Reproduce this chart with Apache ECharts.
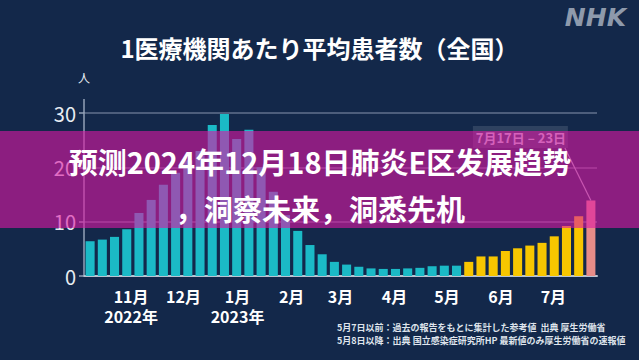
<!DOCTYPE html>
<html><head><meta charset="utf-8">
<script src="https://cdn.jsdelivr.net/npm/echarts@6/dist/echarts.min.js"></script>
<style>html,body{margin:0;padding:0;background:#13284a;}#c{width:639px;height:360px;}</style>
</head><body><div id="c"></div>
<script>
// Week start dates (one bar per week)
const weeks = ['2022-10-03','2022-10-10','2022-10-17','2022-10-24','2022-10-31','2022-11-07','2022-11-14','2022-11-21','2022-11-28','2022-12-05','2022-12-12','2022-12-19','2022-12-26','2023-01-02','2023-01-09','2023-01-16','2023-01-23','2023-01-30','2023-02-06','2023-02-13','2023-02-20','2023-02-27','2023-03-06','2023-03-13','2023-03-20','2023-03-27','2023-04-03','2023-04-10','2023-04-17','2023-04-24','2023-05-01','2023-05-08','2023-05-15','2023-05-22','2023-05-29','2023-06-05','2023-06-12','2023-06-19','2023-06-26','2023-07-03','2023-07-10','2023-07-17'];
// Up to 5/7: reference values
const referenceValues = [6.4,6.7,7.2,8.6,11.6,14.0,16.8,19.0,21.3,23.0,27.8,29.8,25.2,26.9,20.0,15.5,11.2,8.3,5.7,4.0,2.6,2.1,1.7,1.4,1.3,1.3,1.4,1.5,1.8,1.9,1.9];
// From 5/8: reported values
const reportedValues = [2.6,3.6,3.6,4.6,5.1,5.6,6.1,7.3,9.2,11.0];
// Latest week 7/17-23
const latestValues = [13.9];
const axisEndDate = '2023-07-24';
const monthTicks = ['2022-11-01','2022-12-01','2023-01-01','2023-02-01','2023-03-01','2023-04-01','2023-05-01','2023-06-01','2023-07-01'];
const monthLabels = ['11月\n2022年','12月','1月\n2023年','2月','3月','4月','5月','6月','7月'];
const yTicks = [0,10,20,30];
const titleText = '1医療機関あたり平均患者数（全国）';
const unitLabel = '人';
const calloutText = '7月17日 – 23日';
const notes = ['5月7日以前：過去の報告をもとに集計した参考値  出典 厚生労働省','5月8日以降：出典 国立感染症研究所HP 最新値のみ厚生労働省の速報値'];
const overlayLines = ['预测2024年12月18日肺炎E区发展趋势','，洞察未来，洞悉先机'];

const toDay = s => { const [y,m,d] = s.split('-').map(Number); return Math.round(Date.UTC(y,m-1,d)/86400000); };
const day0 = toDay(weeks[0]);
const monthDays = monthTicks.map(s => toDay(s) - day0);

const n = weeks.length;
const pad = (arr, start) => weeks.map((w,i) => (i>=start && i<start+arr.length) ? arr[i-start] : '-');
const s1 = pad(referenceValues, 0);
const s2 = pad(reportedValues, referenceValues.length);
const s3 = pad(latestValues, referenceValues.length + reportedValues.length);

const FONT = '"Noto Sans CJK JP", "Noto Sans", sans-serif';
const chart = echarts.init(document.getElementById('c'), null, {renderer:'svg'});
const barCommon = {type:'bar', xAxisIndex:0, barGap:'-100%', barCategoryGap:'26%', animation:false};
chart.setOption({
  backgroundColor:'#13284a',
  animation:false,
  textStyle:{fontFamily:FONT},
  title:{text:titleText, left:'center', top:30, textStyle:{color:'#ffffff', fontSize:24, fontWeight:'bold', fontFamily:FONT}},
  grid:{left:84, right:42, top:113, bottom:84},
  xAxis:[
    {type:'category', data:weeks, boundaryGap:true,
     axisLine:{show:true, lineStyle:{color:'#b9c3d1', width:2}}, axisTick:{show:false}, axisLabel:{show:false}},
    {type:'value', min:0, max:toDay(axisEndDate)-day0, position:'bottom',
     axisLine:{show:false}, axisTick:{show:false}, splitLine:{show:false},
     axisLabel:{show:true, customValues:monthDays, margin:10, color:'#ffffff', fontSize:16, fontWeight:'bold', lineHeight:20, fontFamily:FONT,
       padding:[0,7,0,0], hideOverlap:false, showMinLabel:true, showMaxLabel:true,
       formatter:(v)=>{ const i = monthDays.indexOf(v); return i>=0 ? monthLabels[i] : ''; }}}
  ],
  yAxis:{type:'value', min:yTicks[0], max:yTicks[yTicks.length-1], interval:10,
    name:unitLabel, nameLocation:'end', nameGap:30, nameTextStyle:{color:'#e8edf3', fontSize:12, align:'center', fontFamily:FONT},
    axisLine:{show:true, lineStyle:{color:'#93a1b7', width:1.5}},
    axisTick:{show:true, length:5, lineStyle:{color:'#93a1b7', width:1.5}},
    axisLabel:{color:'#e8edf3', fontSize:20, margin:8, fontFamily:FONT},
    splitLine:{show:true, lineStyle:{color:'#4d5e7c', width:2}}},
  series:[
    Object.assign({name:'参考値', data:s1, itemStyle:{color:'#1bbac6'}}, barCommon),
    Object.assign({name:'速報値', data:s2, itemStyle:{color:'#f7c600'}}, barCommon),
    Object.assign({name:'最新', data:s3, itemStyle:{color:'#e68c88'}}, barCommon)
  ]
});

const lastIdx = n-1;
const tp = chart.convertToPixel({xAxisIndex:0, yAxisIndex:0}, [lastIdx, latestValues[0]]);
const y30 = chart.convertToPixel({yAxisIndex:0}, yTicks[yTicks.length-1]);
const axX = chart.convertToPixel({xAxisIndex:1}, 0);

chart.setOption({graphic:[
  {type:'line', z:5, shape:{x1:axX, y1:y30-14, x2:axX, y2:y30}, style:{stroke:'#93a1b7', lineWidth:1.5}},
  {type:'text', z:5, right:13, top:5, style:{text:'NHK', fill:'#8e9aac', font:'italic bold 25px "DejaVu Sans", sans-serif'}},
  {type:'rect', z:5, shape:{x:tp[0]-118, y:126, width:95, height:22}, style:{fill:'rgba(255,255,255,0.12)'}},
  {type:'text', z:6, x:tp[0]-70, y:137, style:{text:calloutText, fill:'#c9d0dc', font:'bold 13px "Noto Sans CJK JP"', textAlign:'center', textVerticalAlign:'middle'}},
  {type:'line', z:6, shape:{x1:tp[0]-26, y1:148, x2:tp[0], y2:tp[1]}, style:{stroke:'#aab4c4', lineWidth:1.2}},
  {type:'text', z:6, x:337, y:327, style:{text:notes[0], fill:'#dfe4ec', font:'bold 9px "Noto Sans CJK JP"', textVerticalAlign:'middle'}},
  {type:'text', z:6, x:337, y:340, style:{text:notes[1], fill:'#dfe4ec', font:'bold 9px "Noto Sans CJK JP"', textVerticalAlign:'middle'}},
  {type:'rect', z:100, shape:{x:0, y:131, width:639, height:97}, style:{fill:'rgba(222,24,165,0.6)'}},
  {type:'text', z:101, x:320, y:161, style:{text:overlayLines[0], fill:'#ffffff', font:'bold 29px "Noto Sans CJK SC"', textAlign:'center', textVerticalAlign:'middle'}},
  {type:'text', z:101, x:320, y:208, style:{text:overlayLines[1], fill:'#ffffff', font:'bold 29px "Noto Sans CJK SC"', textAlign:'center', textVerticalAlign:'middle'}}
]});
</script></body></html>
